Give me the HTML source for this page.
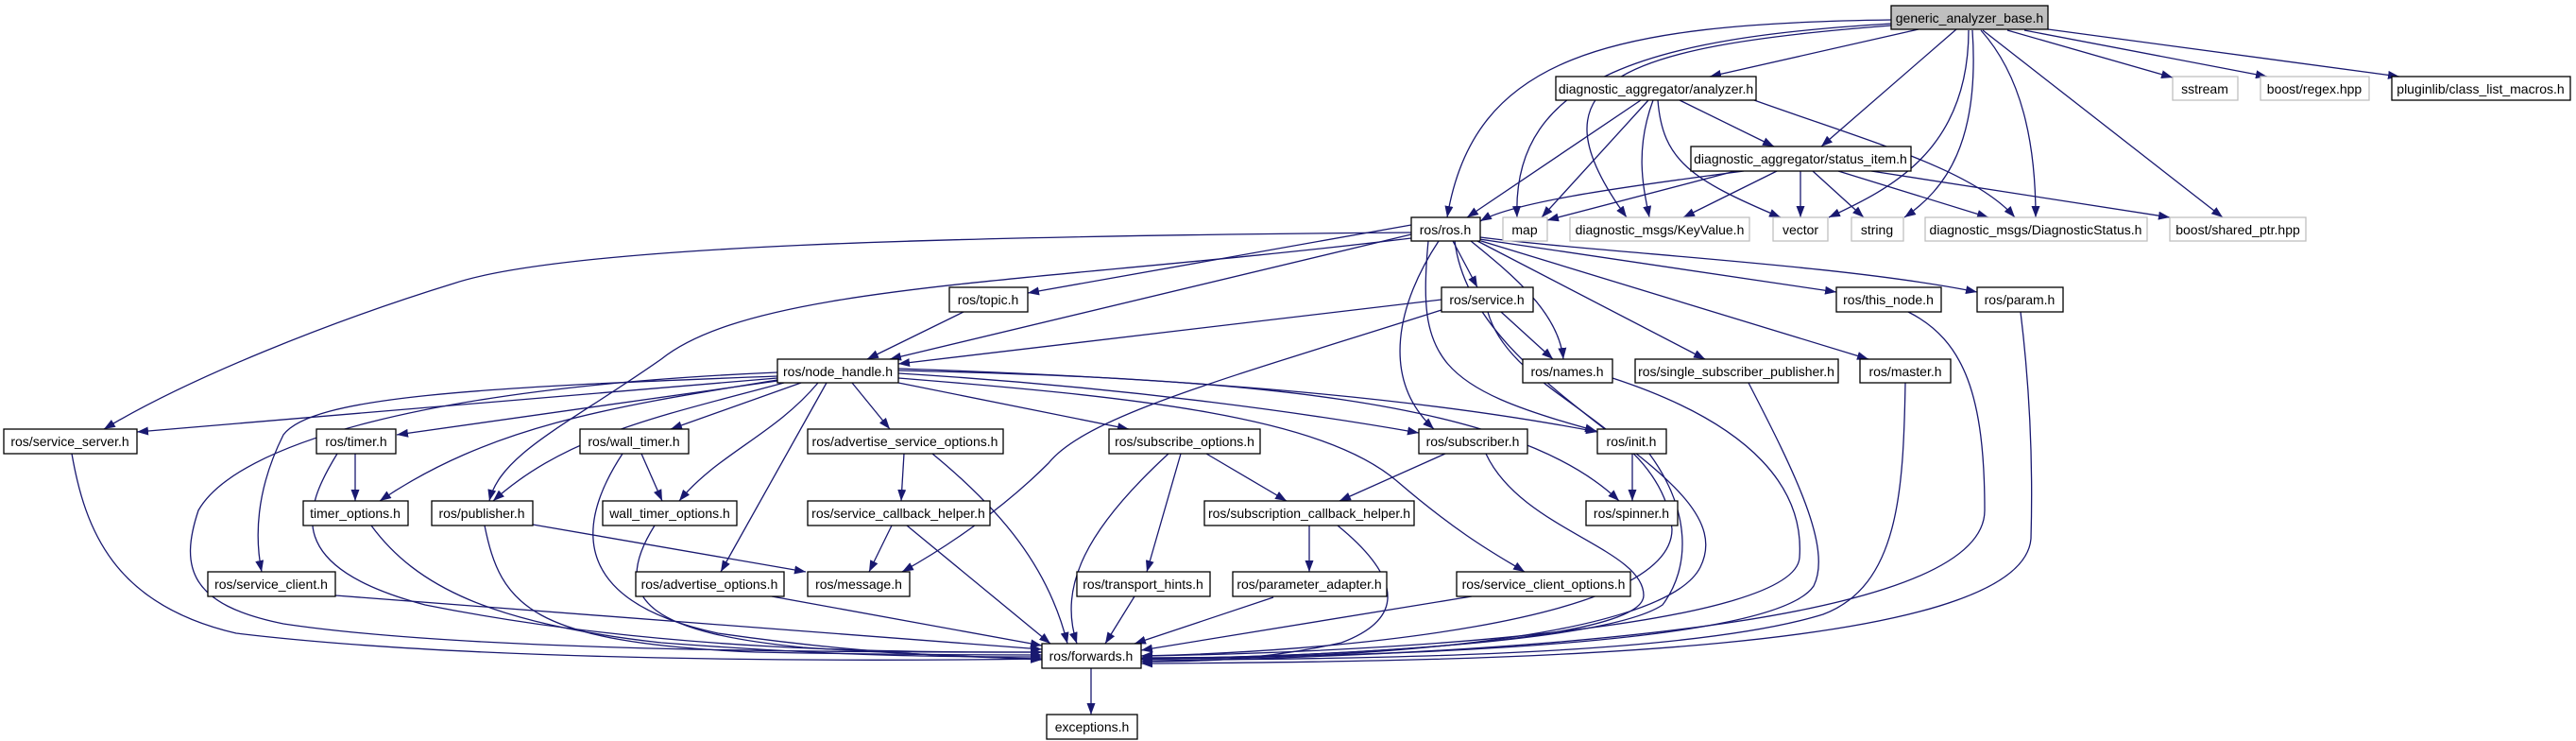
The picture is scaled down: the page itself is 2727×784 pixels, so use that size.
<!DOCTYPE html>
<html><head><meta charset="utf-8"><style>
html,body{margin:0;padding:0;background:#fff;}
svg{display:block;}
text{font-family:"Liberation Sans",sans-serif;font-size:14px;fill:#000;}
</style></head><body>
<svg width="2727" height="784" viewBox="0 0 2727 784" xmlns="http://www.w3.org/2000/svg">
<defs>
<marker id="a" markerUnits="userSpaceOnUse" markerWidth="12" markerHeight="9" refX="12" refY="4.5" orient="auto">
<path d="M0,0 L12,4.5 L0,9 z" fill="#191970"/>
</marker>
</defs>
<g fill="none" stroke="#191970" stroke-width="1.3" marker-end="url(#a)">
<!-- generic -->
<path d="M2002,21 C1700,25 1560,60 1532,230"/>
<path d="M2002,25 C1750,40 1600,80 1606,230"/>
<path d="M2002,27 C1700,50 1620,90 1722,230"/>
<path d="M2031,31 L1810,81"/>
<path d="M2071,31 L1928,155"/>
<path d="M2084,32 C2084,160 2000,200 1936,230"/>
<path d="M2088,32 C2096,150 2060,200 2016,230"/>
<path d="M2097,32 C2140,80 2155,150 2155,230"/>
<path d="M2099,32 L2353,230"/>
<path d="M2125,32 L2300,82"/>
<path d="M2143,32 L2400,81"/>
<path d="M2168,31 L2540,81"/>
<!-- analyzer -->
<path d="M1737,106 L1553,230"/>
<path d="M1745,106 L1632,230"/>
<path d="M1750,106 C1730,160 1740,200 1746,230"/>
<path d="M1755,106 C1760,170 1790,190 1885,230"/>
<path d="M1778,106 L1878,155"/>
<path d="M1857,106 C1980,150 2090,180 2133,230"/>
<!-- status_item -->
<path d="M1846,181 C1700,200 1600,215 1567,234"/>
<path d="M1837,181 L1638,233"/>
<path d="M1881,181 L1782,230"/>
<path d="M1906,181 L1906,230"/>
<path d="M1919,181 L1973,230"/>
<path d="M1946,181 L2105,230"/>
<path d="M1981,181 L2297,230"/>
<!-- ros.h -->
<path d="M1494,238 L1088,310"/>
<path d="M1494,248 L942,380"/>
<path d="M1494,246 C1000,250 600,260 480,300 C350,340 200,400 110,454"/>
<path d="M1494,252 C1100,300 800,300 700,380 C600,450 530,480 518,530"/>
<path d="M1538,255 L1564,304"/>
<path d="M1557,255 C1600,290 1650,330 1655,380"/>
<path d="M1564,255 L1805,380"/>
<path d="M1568,255 L1978,380"/>
<path d="M1566,253 L1944,309"/>
<path d="M1567,251 C1700,268 1950,280 2093,309"/>
<path d="M1523,255 C1480,320 1460,400 1518,454"/>
<path d="M1512,255 C1500,380 1520,410 1690,456"/>
<path d="M1540,255 C1560,420 1850,500 1800,600 C1760,680 1400,700 1208,696"/>
<!-- service -->
<path d="M1526,317 L951,385"/>
<path d="M1020,330 L918,380"/>
<path d="M1575,330 C1600,420 1760,450 1770,560 C1770,660 1400,690 1208,694"/>
<path d="M1589,330 L1644,380"/>
<path d="M1526,328 C1300,400 1150,440 1110,490 C1060,540 1000,580 955,605"/>
<!-- row 2 to forwards -->
<path d="M1707,400 C1860,450 1910,520 1905,590 C1900,660 1500,690 1208,694"/>
<path d="M1851,405 C1900,500 1940,580 1920,620 C1880,680 1500,695 1208,696"/>
<path d="M2017,405 C2015,520 2010,620 1930,650 C1800,690 1500,698 1208,698"/>
<path d="M2020,330 C2080,360 2101,420 2101,540 C2101,650 1700,690 1208,700"/>
<path d="M2139,330 C2150,420 2152,500 2150,570 C2140,690 1600,700 1208,702"/>
<!-- node_handle -->
<path d="M823,400 L145,457"/>
<path d="M823,403 L420,460"/>
<path d="M848,405 L710,454"/>
<path d="M902,405 L942,454"/>
<path d="M951,405 L1195,454"/>
<path d="M951,395 C1200,410 1400,440 1502,458"/>
<path d="M951,390 C1250,400 1500,420 1691,457"/>
<path d="M951,392 C1300,400 1600,420 1714,530"/>
<path d="M951,400 C1200,420 1400,440 1480,510 C1550,570 1590,590 1614,605"/>
<path d="M823,402 C650,430 520,450 402,530"/>
<path d="M830,405 C700,440 600,460 522,530"/>
<path d="M866,405 C820,460 760,480 719,530"/>
<path d="M875,405 L763,605"/>
<path d="M823,398 C500,410 330,420 300,460 C270,520 270,570 277,605"/>
<path d="M823,394 C450,410 250,470 210,540 C190,600 200,640 300,660 C500,690 900,690 1103,690"/>
<!-- lower -->
<path d="M76,480 C90,560 120,640 250,670 C500,700 900,700 1103,697"/>
<path d="M376,480 L376,530"/>
<path d="M357,480 C320,540 300,600 450,640 C700,690 950,690 1103,690"/>
<path d="M393,556 C440,620 520,660 700,680 C900,695 1000,695 1103,695"/>
<path d="M564,555 L853,605"/>
<path d="M513,556 C530,640 560,680 800,690 C950,693 1050,693 1103,693"/>
<path d="M679,480 L701,530"/>
<path d="M659,480 C600,570 620,640 760,670 C900,690 1000,695 1103,697"/>
<path d="M693,556 C640,640 700,670 850,685 C950,692 1050,695 1103,698"/>
<path d="M957,480 L954,530"/>
<path d="M987,480 C1060,540 1110,600 1130,681"/>
<path d="M944,556 L920,605"/>
<path d="M960,556 L1112,681"/>
<path d="M817,631 L1103,683"/>
<path d="M355,630 L1103,687"/>
<path d="M1277,480 L1362,530"/>
<path d="M1250,480 L1214,605"/>
<path d="M1237,480 C1150,560 1120,620 1140,681"/>
<path d="M1201,631 L1170,681"/>
<path d="M1386,556 L1386,605"/>
<path d="M1416,556 C1470,600 1500,650 1420,680 C1330,700 1260,700 1208,700"/>
<path d="M1348,632 L1201,681"/>
<path d="M1530,480 L1418,530"/>
<path d="M1573,480 C1610,560 1740,580 1740,630 C1740,680 1400,695 1208,697"/>
<path d="M1728,480 L1728,530"/>
<path d="M1746,480 C1790,540 1790,600 1760,640 C1700,680 1400,695 1208,697"/>
<path d="M1558,631 L1208,688"/>
<path d="M1155,707 L1155,756"/>
</g>
<g stroke-width="1.3">
<rect x="2002" y="6" width="166" height="25" fill="#bfbfbf" stroke="#000"/>
<g fill="#fff" stroke="#000">
<rect x="1647" y="81" width="212" height="25"/>
<rect x="2532" y="81" width="189" height="25"/>
<rect x="1790" y="155" width="233" height="26"/>
<rect x="1494" y="230" width="73" height="25"/>
<rect x="1005" y="304" width="83" height="26"/>
<rect x="1526" y="304" width="97" height="26"/>
<rect x="1944" y="304" width="111" height="26"/>
<rect x="2093" y="304" width="91" height="26"/>
<rect x="823" y="380" width="128" height="25"/>
<rect x="1612" y="380" width="95" height="25"/>
<rect x="1731" y="380" width="215" height="25"/>
<rect x="1969" y="380" width="96" height="25"/>
<rect x="4" y="454" width="141" height="26"/>
<rect x="335" y="454" width="84" height="26"/>
<rect x="614" y="454" width="115" height="26"/>
<rect x="855" y="454" width="207" height="26"/>
<rect x="1174" y="454" width="160" height="26"/>
<rect x="1502" y="454" width="115" height="26"/>
<rect x="1691" y="454" width="73" height="26"/>
<rect x="321" y="530" width="111" height="26"/>
<rect x="457" y="530" width="107" height="26"/>
<rect x="638" y="530" width="142" height="26"/>
<rect x="855" y="530" width="193" height="26"/>
<rect x="1275" y="530" width="222" height="26"/>
<rect x="1679" y="530" width="97" height="26"/>
<rect x="220" y="605" width="135" height="26"/>
<rect x="673" y="605" width="157" height="26"/>
<rect x="855" y="605" width="108" height="26"/>
<rect x="1140" y="605" width="141" height="26"/>
<rect x="1305" y="605" width="163" height="26"/>
<rect x="1542" y="605" width="184" height="26"/>
<rect x="1103" y="681" width="105" height="26"/>
<rect x="1108" y="756" width="96" height="26"/>
</g>
<g fill="#fff" stroke="#bfbfbf">
<rect x="2300" y="81" width="69" height="25"/>
<rect x="2393" y="81" width="115" height="25"/>
<rect x="1591" y="230" width="47" height="25"/>
<rect x="1662" y="230" width="190" height="25"/>
<rect x="1877" y="230" width="58" height="25"/>
<rect x="1960" y="230" width="55" height="25"/>
<rect x="2038" y="230" width="235" height="25"/>
<rect x="2297" y="230" width="144" height="25"/>
</g>
</g>
<g text-anchor="middle">
<text x="2085" y="24">generic_analyzer_base.h</text>
<text x="1753" y="99">diagnostic_aggregator/analyzer.h</text>
<text x="2334" y="99">sstream</text>
<text x="2450" y="99">boost/regex.hpp</text>
<text x="2626" y="99">pluginlib/class_list_macros.h</text>
<text x="1906" y="173">diagnostic_aggregator/status_item.h</text>
<text x="1530" y="248">ros/ros.h</text>
<text x="1614" y="248">map</text>
<text x="1757" y="248">diagnostic_msgs/KeyValue.h</text>
<text x="1906" y="248">vector</text>
<text x="1987" y="248">string</text>
<text x="2155" y="248">diagnostic_msgs/DiagnosticStatus.h</text>
<text x="2369" y="248">boost/shared_ptr.hpp</text>
<text x="1046" y="322">ros/topic.h</text>
<text x="1574" y="322">ros/service.h</text>
<text x="1999" y="322">ros/this_node.h</text>
<text x="2138" y="322">ros/param.h</text>
<text x="887" y="398">ros/node_handle.h</text>
<text x="1659" y="398">ros/names.h</text>
<text x="1838" y="398">ros/single_subscriber_publisher.h</text>
<text x="2017" y="398">ros/master.h</text>
<text x="74" y="472">ros/service_server.h</text>
<text x="377" y="472">ros/timer.h</text>
<text x="671" y="472">ros/wall_timer.h</text>
<text x="958" y="472">ros/advertise_service_options.h</text>
<text x="1254" y="472">ros/subscribe_options.h</text>
<text x="1559" y="472">ros/subscriber.h</text>
<text x="1727" y="472">ros/init.h</text>
<text x="376" y="548">timer_options.h</text>
<text x="510" y="548">ros/publisher.h</text>
<text x="709" y="548">wall_timer_options.h</text>
<text x="951" y="548">ros/service_callback_helper.h</text>
<text x="1386" y="548">ros/subscription_callback_helper.h</text>
<text x="1727" y="548">ros/spinner.h</text>
<text x="287" y="623">ros/service_client.h</text>
<text x="751" y="623">ros/advertise_options.h</text>
<text x="909" y="623">ros/message.h</text>
<text x="1210" y="623">ros/transport_hints.h</text>
<text x="1386" y="623">ros/parameter_adapter.h</text>
<text x="1634" y="623">ros/service_client_options.h</text>
<text x="1155" y="699">ros/forwards.h</text>
<text x="1156" y="774">exceptions.h</text>
</g>
</svg>
</body></html>
